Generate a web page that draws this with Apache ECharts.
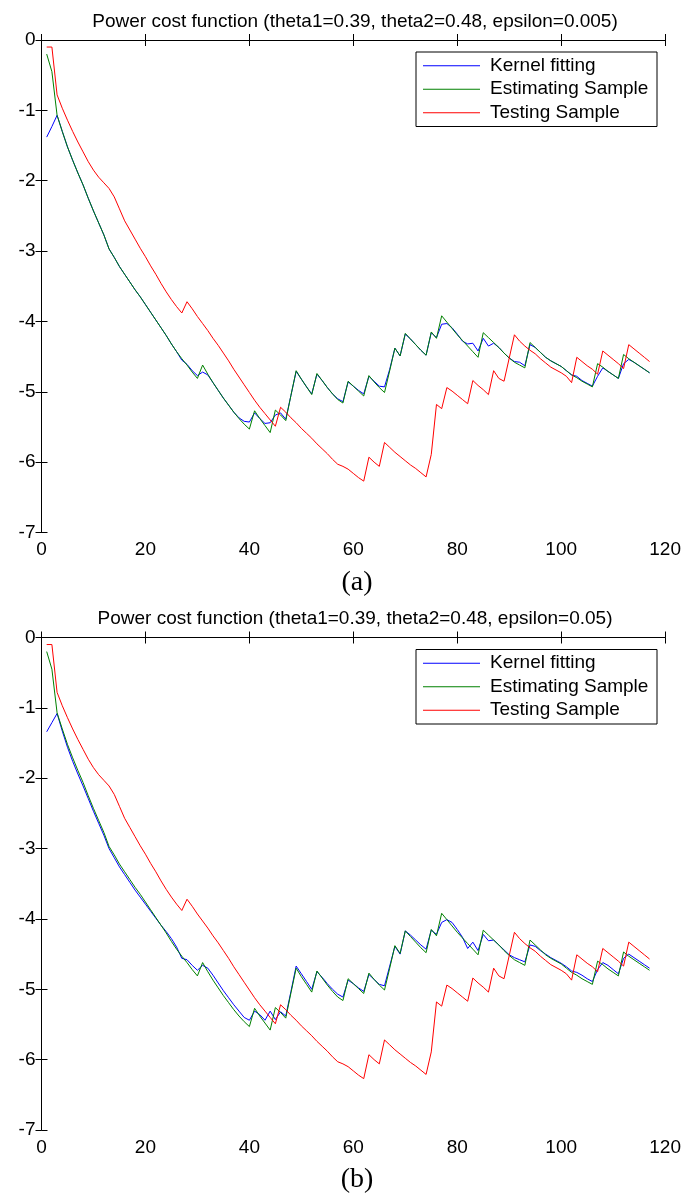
<!DOCTYPE html>
<html>
<head>
<meta charset="utf-8">
<title>Power cost function</title>
<script src="https://cdn.jsdelivr.net/npm/echarts@6/dist/echarts.min.js"></script>
<style>
  html, body { margin: 0; padding: 0; background: #ffffff; }
  #chart { width: 684px; height: 1204px; }
</style>
</head>
<body>
<div id="chart"></div>
<script>
// Sample index (horizontal axis)
const sampleIndex = [
  1, 2, 3, 4, 5, 6, 7, 8, 9, 10, 11, 12, 13, 14, 15, 16, 17, 18, 19, 20,
  21, 22, 23, 24, 25, 26, 27, 28, 29, 30, 31, 32, 33, 34, 35, 36, 37, 38, 39, 40,
  41, 42, 43, 44, 45, 46, 47, 48, 49, 50, 51, 52, 53, 54, 55, 56, 57, 58, 59, 60,
  61, 62, 63, 64, 65, 66, 67, 68, 69, 70, 71, 72, 73, 74, 75, 76, 77, 78, 79, 80,
  81, 82, 83, 84, 85, 86, 87, 88, 89, 90, 91, 92, 93, 94, 95, 96, 97, 98, 99, 100,
  101, 102, 103, 104, 105, 106, 107, 108, 109, 110, 111, 112, 113, 114, 115, 116, 117
];

// Estimating sample (same in both panels)
const estimatingSample = [
  -0.20, -0.45, -1.07, -1.30, -1.52, -1.71, -1.89, -2.06, -2.25, -2.43,
  -2.60, -2.77, -2.97, -3.09, -3.22, -3.33, -3.44, -3.55, -3.65, -3.76,
  -3.87, -3.98, -4.09, -4.20, -4.32, -4.43, -4.53, -4.62, -4.72, -4.81,
  -4.62, -4.75, -4.87, -4.98, -5.09, -5.19, -5.29, -5.38, -5.46, -5.53,
  -5.27, -5.38, -5.48, -5.58, -5.26, -5.33, -5.41, -5.05, -4.70, -4.82,
  -4.93, -5.04, -4.74, -4.84, -4.94, -5.03, -5.11, -5.16, -4.85, -4.92,
  -4.99, -5.06, -4.77, -4.86, -4.94, -5.01, -4.70, -4.38, -4.49, -4.17,
  -4.25, -4.33, -4.41, -4.48, -4.15, -4.24, -3.92, -4.01, -4.10, -4.19,
  -4.27, -4.35, -4.43, -4.51, -4.16, -4.23, -4.30, -4.37, -4.45, -4.52,
  -4.58, -4.62, -4.66, -4.30, -4.37, -4.44, -4.51, -4.56, -4.60, -4.64,
  -4.70, -4.76, -4.80, -4.85, -4.89, -4.93, -4.60, -4.65, -4.71, -4.76,
  -4.81, -4.47, -4.53, -4.58, -4.63, -4.68, -4.73
];

// Testing sample (same in both panels)
const testingSample = [
  -0.10, -0.10, -0.78, -0.97, -1.14, -1.30, -1.45, -1.59, -1.73, -1.85,
  -1.95, -2.03, -2.11, -2.23, -2.40, -2.57, -2.70, -2.83, -2.96, -3.08,
  -3.21, -3.33, -3.46, -3.58, -3.69, -3.79, -3.88, -3.72, -3.82, -3.93,
  -4.03, -4.13, -4.24, -4.34, -4.45, -4.56, -4.68, -4.79, -4.90, -5.01,
  -5.12, -5.22, -5.31, -5.40, -5.49, -5.22, -5.29, -5.37, -5.44, -5.52,
  -5.59, -5.66, -5.74, -5.81, -5.88, -5.96, -6.03, -6.06, -6.10, -6.16,
  -6.22, -6.27, -5.93, -6.00, -6.06, -5.72, -5.79, -5.86, -5.92, -5.98,
  -6.04, -6.09, -6.15, -6.21, -5.89, -5.18, -5.24, -4.94, -4.99, -5.05,
  -5.11, -5.17, -4.84, -4.91, -4.97, -5.04, -4.70, -4.81, -4.85, -4.52,
  -4.19, -4.28, -4.35, -4.41, -4.46, -4.53, -4.59, -4.65, -4.69, -4.73,
  -4.78, -4.87, -4.51, -4.57, -4.63, -4.68, -4.75, -4.42, -4.48, -4.54,
  -4.60, -4.67, -4.33, -4.39, -4.45, -4.51, -4.57
];

// Kernel fitting, epsilon = 0.005
const kernelFitA = [
  -1.38, -1.23, -1.07, -1.30, -1.52, -1.71, -1.89, -2.06, -2.25, -2.43,
  -2.60, -2.77, -2.97, -3.09, -3.22, -3.33, -3.44, -3.55, -3.65, -3.76,
  -3.87, -3.98, -4.09, -4.20, -4.32, -4.43, -4.55, -4.61, -4.70, -4.77,
  -4.72, -4.76, -4.87, -4.98, -5.09, -5.19, -5.29, -5.37, -5.42, -5.43,
  -5.30, -5.38, -5.45, -5.44, -5.33, -5.30, -5.39, -5.05, -4.71, -4.82,
  -4.93, -5.03, -4.75, -4.84, -4.94, -5.03, -5.10, -5.14, -4.86, -4.92,
  -4.98, -5.03, -4.78, -4.85, -4.92, -4.93, -4.68, -4.38, -4.49, -4.18,
  -4.25, -4.33, -4.41, -4.48, -4.16, -4.23, -4.04, -4.03, -4.09, -4.18,
  -4.28, -4.32, -4.31, -4.42, -4.24, -4.35, -4.31, -4.37, -4.45, -4.52,
  -4.57, -4.58, -4.63, -4.33, -4.37, -4.44, -4.51, -4.56, -4.60, -4.64,
  -4.70, -4.76, -4.78, -4.84, -4.88, -4.92, -4.78, -4.66, -4.71, -4.76,
  -4.81, -4.60, -4.54, -4.58, -4.63, -4.68, -4.73
];

// Kernel fitting, epsilon = 0.05
const kernelFitB = [
  -1.34, -1.21, -1.08, -1.33, -1.56, -1.76, -1.94, -2.11, -2.29, -2.47,
  -2.64, -2.81, -3.00, -3.13, -3.26, -3.37, -3.48, -3.59, -3.69, -3.79,
  -3.89, -3.99, -4.09, -4.18, -4.28, -4.40, -4.56, -4.58, -4.66, -4.73,
  -4.66, -4.70, -4.80, -4.91, -5.02, -5.12, -5.22, -5.31, -5.40, -5.44,
  -5.31, -5.36, -5.44, -5.31, -5.43, -5.32, -5.38, -5.03, -4.67, -4.78,
  -4.89, -5.00, -4.75, -4.83, -4.92, -5.00, -5.07, -5.11, -4.87, -4.92,
  -4.98, -5.03, -4.79, -4.86, -4.93, -4.95, -4.67, -4.39, -4.50, -4.17,
  -4.23, -4.30, -4.37, -4.43, -4.16, -4.22, -4.05, -4.01, -4.05, -4.15,
  -4.26, -4.42, -4.33, -4.45, -4.22, -4.31, -4.30, -4.37, -4.44, -4.51,
  -4.55, -4.58, -4.61, -4.37, -4.39, -4.45, -4.50, -4.55, -4.59, -4.63,
  -4.68, -4.74, -4.76, -4.80, -4.85, -4.89, -4.72, -4.62, -4.66, -4.72,
  -4.78, -4.56, -4.50, -4.55, -4.60, -4.65, -4.70
];

const seriesNames = ['Kernel fitting', 'Estimating Sample', 'Testing Sample'];
const seriesColors = ['#0000ff', '#008000', '#ff0000'];
const panelTitles = [
  'Power cost function (theta1=0.39, theta2=0.48, epsilon=0.005)',
  'Power cost function (theta1=0.39, theta2=0.48, epsilon=0.05)'
];
const panelTags = ['(a)', '(b)'];
const xTicks = { min: 0, max: 120, interval: 20 };
const yTicks = { min: -7, max: 0, interval: 1 };

const SANS = '"Liberation Sans", Arial, sans-serif';
const SERIF = '"Liberation Serif", "DejaVu Serif", serif';

const panelTops = [40, 637.5];
const plotLeft = 41.5;
const plotWidth = 624;
const plotHeight = 492.5;

function pairs(values) {
  return sampleIndex.map((x, i) => [x, values[i]]);
}

const grids = [], xAxes = [], yAxes = [], series = [], titles = [], legends = [];

panelTops.forEach((top, p) => {
  grids.push({ left: plotLeft, top: top, width: plotWidth, height: plotHeight, containLabel: false });

  const axisLine = { show: true, lineStyle: { color: '#000', width: 1 } };
  const tick = { show: true, inside: true, length: 6, lineStyle: { color: '#000', width: 1 } };

  // bottom / left axes with labels
  xAxes.push({
    type: 'value', gridIndex: p, position: 'bottom', ...xTicks,
    axisLine, axisTick: tick, splitLine: { show: false },
    axisLabel: { color: '#000', fontSize: 19, fontFamily: SANS, margin: 8 }
  });
  yAxes.push({
    type: 'value', gridIndex: p, position: 'left', ...yTicks,
    axisLine, axisTick: tick, splitLine: { show: false },
    axisLabel: { color: '#000', fontSize: 19, fontFamily: SANS, margin: 6 }
  });
  // top / right axes complete the box
  xAxes.push({
    type: 'value', gridIndex: p, position: 'top', ...xTicks,
    axisLine, axisTick: tick, axisLabel: { show: false }, splitLine: { show: false }
  });
  yAxes.push({
    type: 'value', gridIndex: p, position: 'right', ...yTicks,
    axisLine, axisTick: tick, axisLabel: { show: false }, splitLine: { show: false }
  });

  const kernel = p === 0 ? kernelFitA : kernelFitB;
  [kernel, estimatingSample, testingSample].forEach((vals, s) => {
    series.push({
      type: 'line', name: seriesNames[s], xAxisIndex: p * 2, yAxisIndex: p * 2,
      data: pairs(vals), symbol: 'none', animation: false,
      lineStyle: { color: seriesColors[s], width: 1 },
      itemStyle: { color: seriesColors[s] }
    });
  });

  titles.push({
    text: panelTitles[p], left: 350, top: top - 33, textAlign: 'center',
    textStyle: { fontFamily: SANS, fontSize: 19, fontWeight: 'normal', color: '#000' }
  });
  titles.push({
    text: panelTags[p], left: 352, top: top + plotHeight + 31, textAlign: 'center',
    textStyle: { fontFamily: SERIF, fontSize: 28, fontWeight: 'normal', color: '#000' }
  });

  legends.push({
    data: seriesNames, orient: 'vertical', left: 416, top: top + 12,
    backgroundColor: '#fff', borderColor: '#000', borderWidth: 1,
    padding: [4, 8, 4, 7], itemGap: 4, itemWidth: 57, itemHeight: 1.2, icon: 'rect',
    selectedMode: false,
    textStyle: { fontFamily: SANS, fontSize: 19, color: '#000', lineHeight: 19.5, width: 159, padding: [0, 0, 0, 5] }
  });
});

const chart = echarts.init(document.getElementById('chart'), null, { renderer: 'canvas' });
chart.setOption({
  backgroundColor: '#ffffff',
  animation: false,
  title: titles,
  legend: legends,
  grid: grids,
  xAxis: xAxes,
  yAxis: yAxes,
  series: series
});
</script>
</body>
</html>
